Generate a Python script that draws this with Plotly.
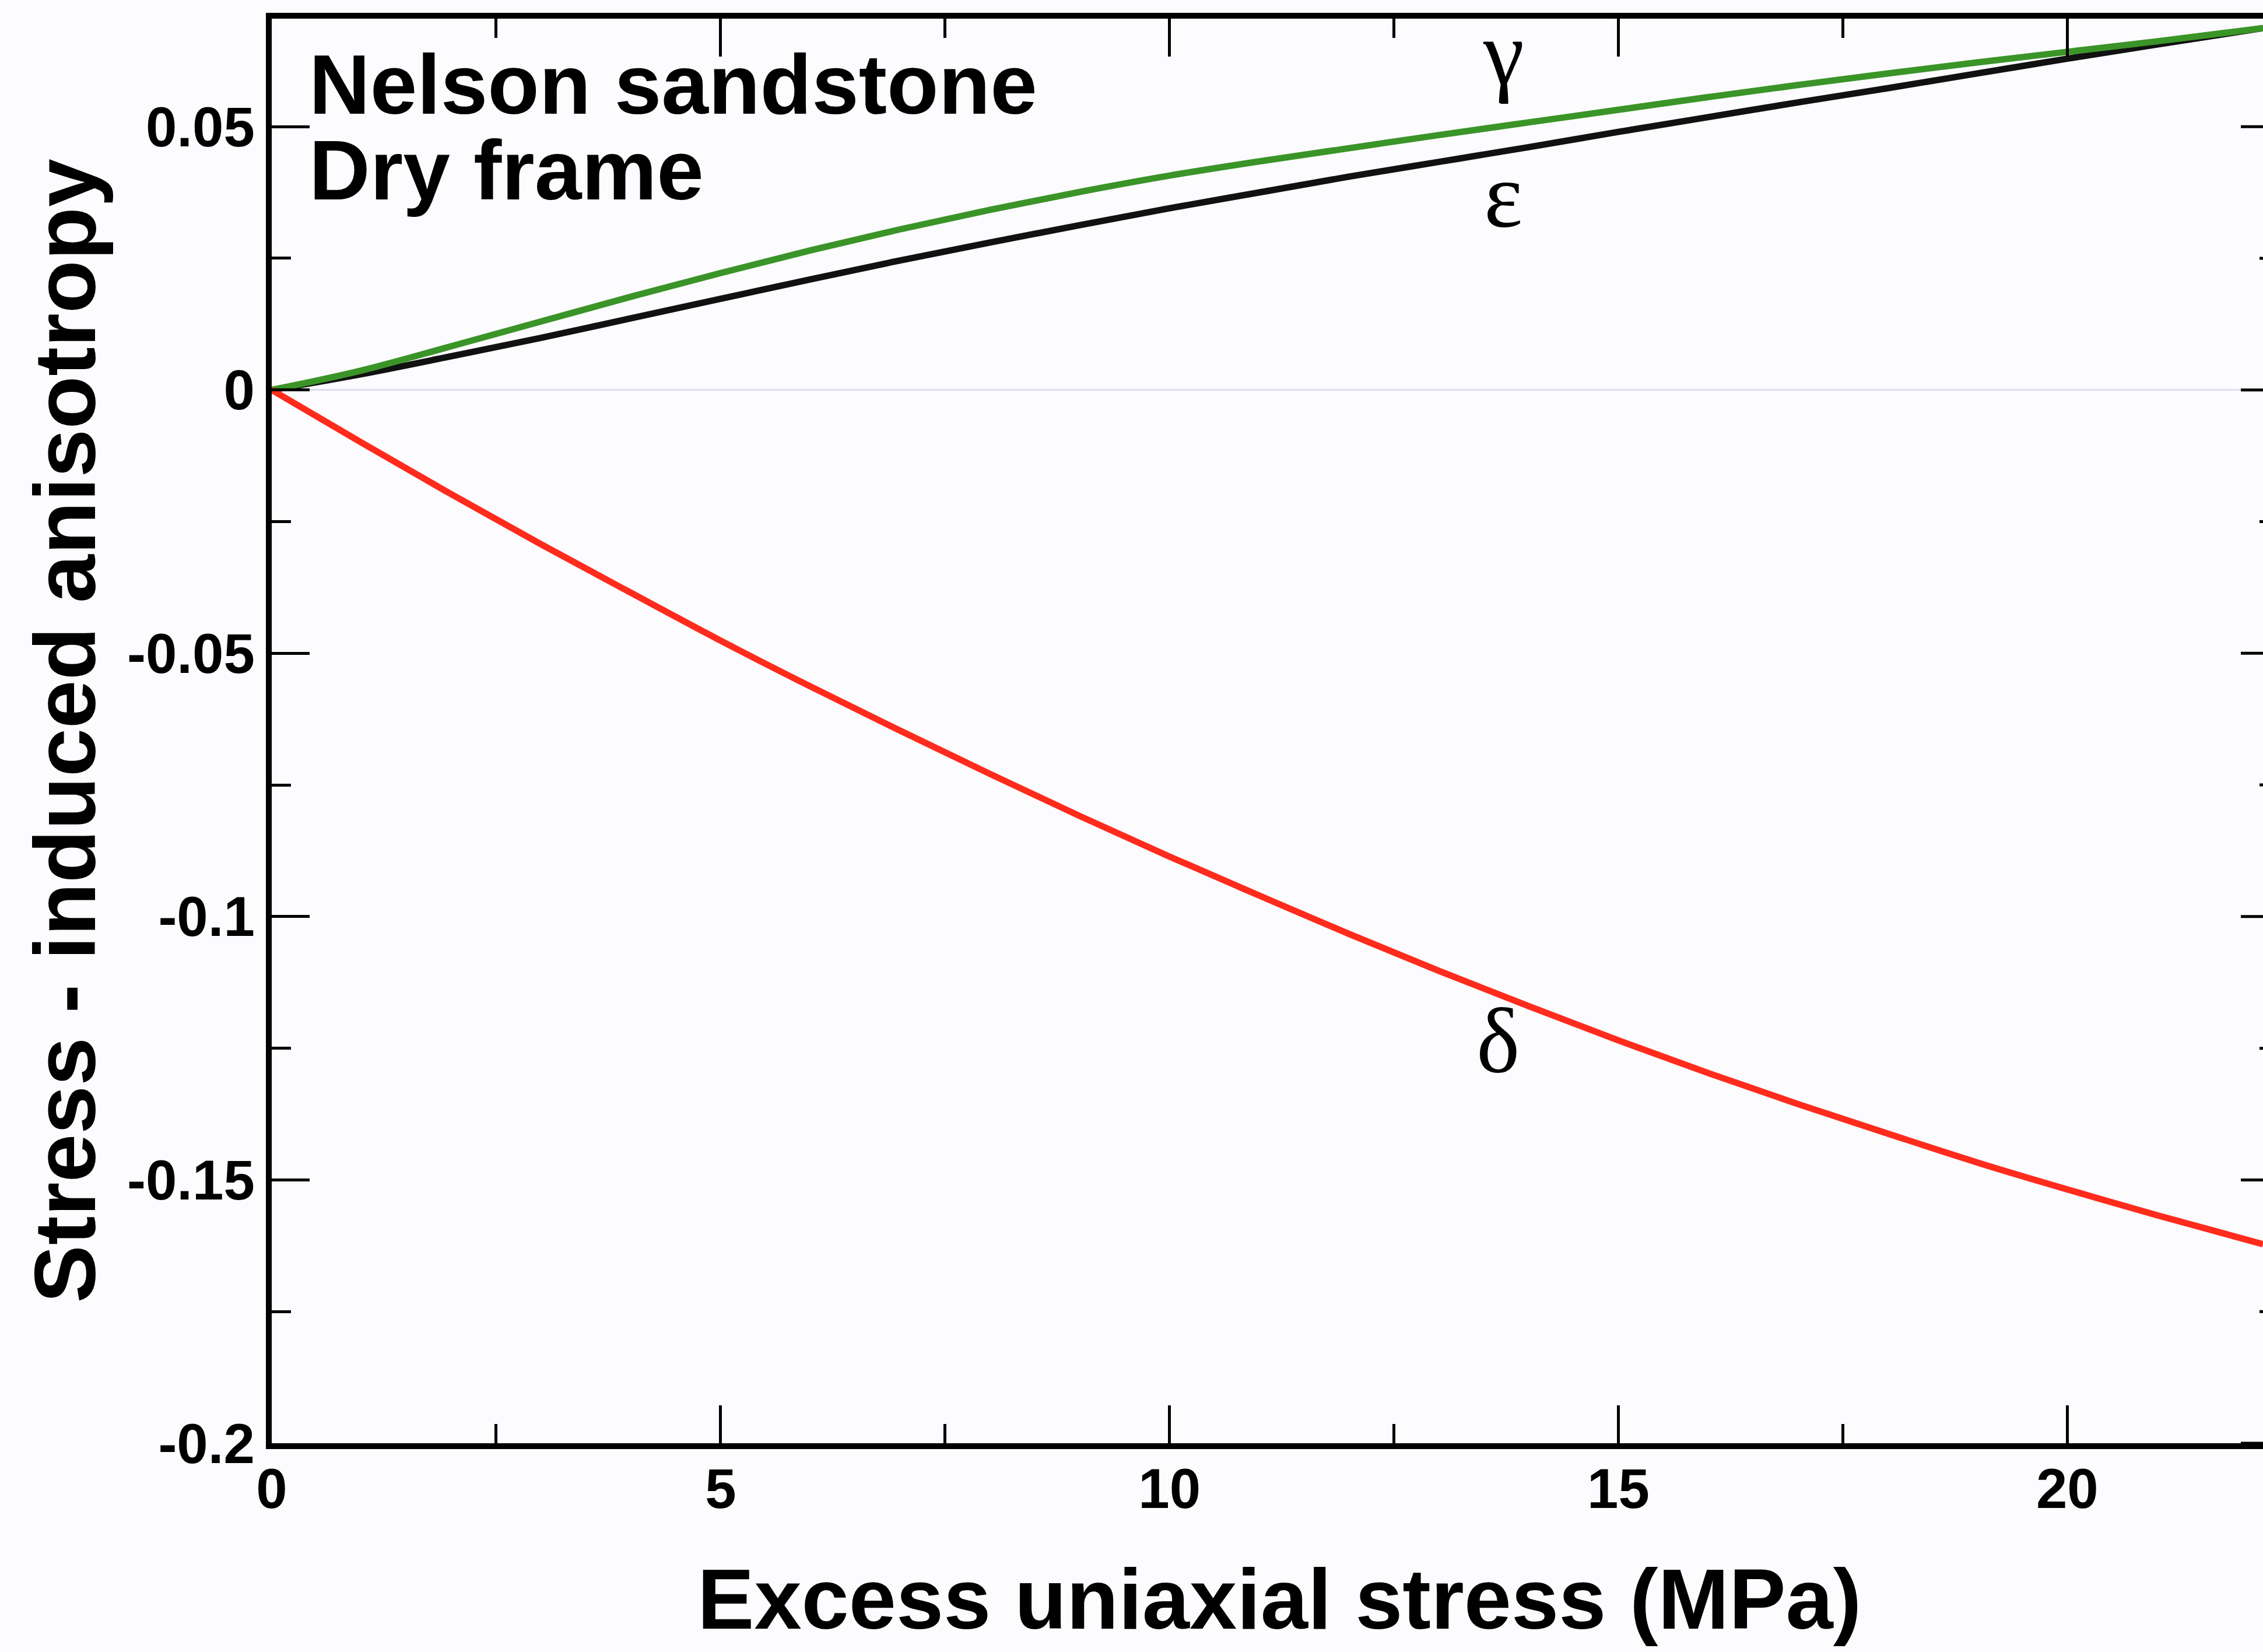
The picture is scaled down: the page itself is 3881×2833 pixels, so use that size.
import plotly.graph_objects as go

# Excess uniaxial stress (MPa) at which the anisotropy parameters are tabulated
stress = [0, 1, 2, 3, 4, 5, 6, 7, 8, 9, 10, 11, 12, 13, 14, 15, 16, 17, 18, 19, 20, 21, 22.18]

# Thomsen parameters of the stress-induced anisotropy, Nelson sandstone dry frame
gamma = [0, 0.0037, 0.0083, 0.0130, 0.0177, 0.0222, 0.0265, 0.0305, 0.0342, 0.0376,
         0.0407, 0.0434, 0.0459, 0.0484, 0.0508, 0.0532, 0.0556, 0.0579, 0.0601, 0.0622,
         0.0642, 0.0662, 0.0687]
epsilon = [0, 0.0030, 0.0064, 0.0099, 0.0136, 0.0173, 0.0210, 0.0246, 0.0280, 0.0313,
           0.0345, 0.0375, 0.0405, 0.0433, 0.0461, 0.0490, 0.0518, 0.0546, 0.0573, 0.0601,
           0.0629, 0.0656, 0.0687]
delta = [0, -0.0100, -0.0198, -0.0293, -0.0385, -0.0476, -0.0563, -0.0647, -0.0729, -0.0809,
         -0.0886, -0.0960, -0.1033, -0.1103, -0.1170, -0.1235, -0.1297, -0.1356, -0.1412,
         -0.1467, -0.1518, -0.1567, -0.1622]

x_ticks = [0, 5, 10, 15, 20]
x_tick_text = ["0", "5", "10", "15", "20"]
y_ticks = [0.05, 0, -0.05, -0.1, -0.15, -0.2]
y_tick_text = ["0.05", "0", "-0.05", "-0.1", "-0.15", "-0.2"]
y_minor_ticks = [0.025, -0.025, -0.075, -0.125, -0.175]

# curve labels: (text, stress, value)
curve_labels = [("γ", 13.72, 0.0640), ("ε", 13.72, 0.0370), ("δ", 13.66, -0.1235)]

W, H = 3881, 2833
L, T, B, R = 466, 32, 358, 0
plot_w = W - L - R
plot_h = H - T - B

SANS = "Liberation Sans"
SERIF = "Liberation Serif"
BG = "#fcfbfe"
AXIS_W = 10
LINE_W = 11

fig = go.Figure()
fig.add_trace(go.Scatter(x=stress, y=epsilon, mode="lines",
                         line=dict(color="#111111", width=LINE_W, shape="spline", smoothing=1.0), name="ε"))
fig.add_trace(go.Scatter(x=stress, y=gamma, mode="lines",
                         line=dict(color="#3a9428", width=LINE_W, shape="spline", smoothing=1.0), name="γ"))
fig.add_trace(go.Scatter(x=stress, y=delta, mode="lines",
                         line=dict(color="#ff2b1c", width=LINE_W, shape="spline", smoothing=1.0), name="δ"))

for txt, xv, yv in curve_labels:
    fig.add_annotation(x=xv, y=yv, xref="x", yref="y", text=txt, showarrow=False,
                       font=dict(family=SERIF, size=158, color="black"),
                       xanchor="center", yanchor="middle")

# in-frame caption
fig.add_annotation(x=(528 - L) / plot_w, y=(H - B - 145) / plot_h, xref="paper", yref="paper",
                   text="<b>Nelson sandstone</b>", showarrow=False, xanchor="left", yanchor="middle",
                   font=dict(family=SANS, size=145, color="black"))
fig.add_annotation(x=(528 - L) / plot_w, y=(H - B - 292) / plot_h, xref="paper", yref="paper",
                   text="<b>Dry frame</b>", showarrow=False, xanchor="left", yanchor="middle",
                   font=dict(family=SANS, size=145, color="black"))

# axis titles
fig.add_annotation(x=(111 - L) / plot_w, y=0.5, xref="paper", yref="paper",
                   text="<b>Stress - induced anisotropy</b>", textangle=-90, showarrow=False,
                   xanchor="center", yanchor="middle", font=dict(family=SANS, size=149, color="black"))
fig.add_annotation(x=0.506, y=-(2742 - (H - B)) / plot_h, xref="paper", yref="paper",
                   text="<b>Excess uniaxial stress (MPa)</b>", showarrow=False,
                   xanchor="center", yanchor="middle", font=dict(family=SANS, size=146, color="black"))

# right-hand frame ticks (the right frame edge sits just past the page edge)
right_edge = 1 + 27 / plot_w
for v in y_ticks:
    fig.add_shape(type="line", xref="paper", yref="y", x0=right_edge - 65 / plot_w, x1=right_edge,
                  y0=v, y1=v, line=dict(color="black", width=5))
for v in y_minor_ticks:
    fig.add_shape(type="line", xref="paper", yref="y", x0=right_edge - 33 / plot_w, x1=right_edge,
                  y0=v, y1=v, line=dict(color="black", width=5))

fig.update_layout(
    width=W, height=H,
    margin=dict(l=L, r=R, t=T, b=B, pad=0),
    paper_bgcolor=BG, plot_bgcolor=BG,
    showlegend=False,
    xaxis=dict(
        range=[0, 22.18], showgrid=False, zeroline=False,
        showline=True, linecolor="black", linewidth=AXIS_W, mirror="ticks",
        ticks="inside", ticklen=65, tickwidth=5, tickcolor="black",
        tickvals=x_ticks, ticktext=x_tick_text, ticklabelstandoff=-14,
        tickfont=dict(family=SANS, size=96, color="black", weight="bold"),
        minor=dict(ticks="inside", ticklen=33, tickwidth=5, tickcolor="black", dtick=2.5, tick0=0),
    ),
    yaxis=dict(
        range=[-0.2, 0.0705], showgrid=False,
        zeroline=True, zerolinecolor="#dedded", zerolinewidth=3,
        showline=True, linecolor="black", linewidth=AXIS_W,
        ticks="inside", ticklen=65, tickwidth=5, tickcolor="black",
        tickvals=y_ticks, ticktext=y_tick_text,
        tickfont=dict(family=SANS, size=96, color="black", weight="bold"),
        minor=dict(ticks="inside", ticklen=33, tickwidth=5, tickcolor="black", dtick=0.025, tick0=0),
    ),
)

fig.write_html("out.html")
